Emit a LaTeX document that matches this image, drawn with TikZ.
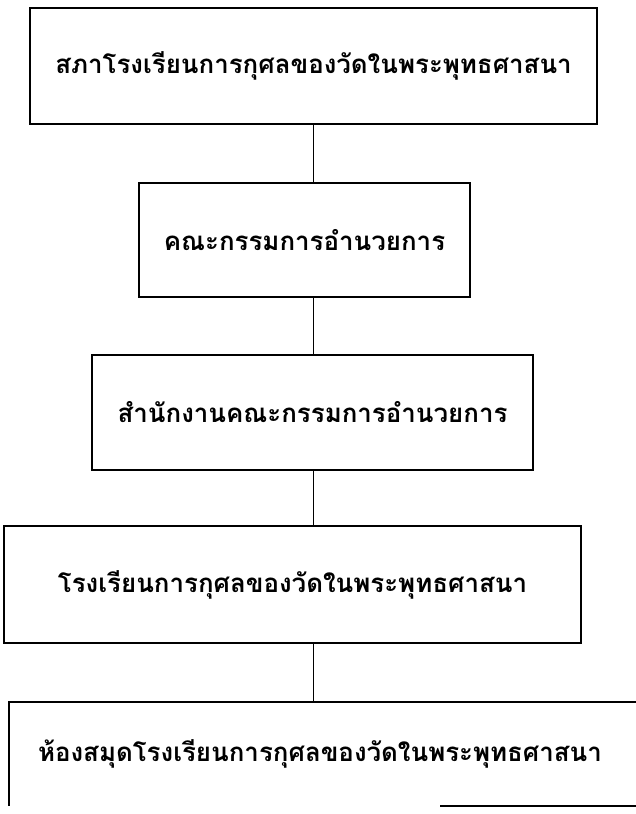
\documentclass[tikz,border=0pt]{standalone}
\usepackage{fontspec}
\newfontfamily\thaifont[Script=Thai]{Loma}
\usetikzlibrary{positioning}
\tikzstyle{every node}+=[inner sep=0pt]
\tikzstyle{block} = [rectangle, draw, line width=1.3pt, font=\thaifont\bfseries\fontsize{18.4}{22}\selectfont, text centered, minimum height=2.9cm, node distance=4.3cm]
\tikzstyle{line} = [draw, line width=1.3pt]

\begin{document}
\begin{tikzpicture}[node distance = 4.3cm]
            \useasboundingbox (0,0) rectangle (15.875,-20.35);
            % Place nodes
            \node [block, minimum width=14.175cm] (n0) at (7.8375,-1.65) {สภาโรงเรียนการกุศลของวัดในพระพุทธศาสนา};
            \node [block, below of=n0, node distance=4.35cm, xshift=-0.225cm, minimum width=8.275cm, minimum height=2.85cm] (n1) {คณะกรรมการอำนวยการ};
            \node [block, below of=n1, node distance=4.3125cm, xshift=0.2cm, minimum width=11.025cm, minimum height=2.875cm] (n2) {สำนักงานคณะกรรมการอำนวยการ};
            \node [block, below of=n2, node distance=4.3cm, xshift=-0.5cm, minimum width=14.425cm, minimum height=2.925cm] (n3) {โรงเรียนการกุศลของวัดในพระพุทธศาสนา};
            \node [block, draw=none, below of=n3, node distance=4.2375cm, xshift=0.6875cm, minimum width=15.5cm, minimum height=2.55cm] (n4) {ห้องสมุดโรงเรียนการกุศลของวัดในพระพุทธศาสนา};
            % Draw edges
            \path [line] (n0.south) -- (n0.south |- n1.north);
            \path [line] (n0.south |- n1.south) -- (n0.south |- n2.north);
            \path [line] (n0.south |- n2.south) -- (n0.south |- n3.north);
            \path [line] (n0.south |- n3.south) -- (n0.south |- n4.north);
            % open box at the bottom
            \path [line] (n4.south west) -- (n4.north west) -- ([xshift=0.2cm]n4.north east);
            \path [line] ([xshift=3cm]n4.south) -- ([xshift=0.2cm]n4.south east);
\end{tikzpicture}
\end{document}
